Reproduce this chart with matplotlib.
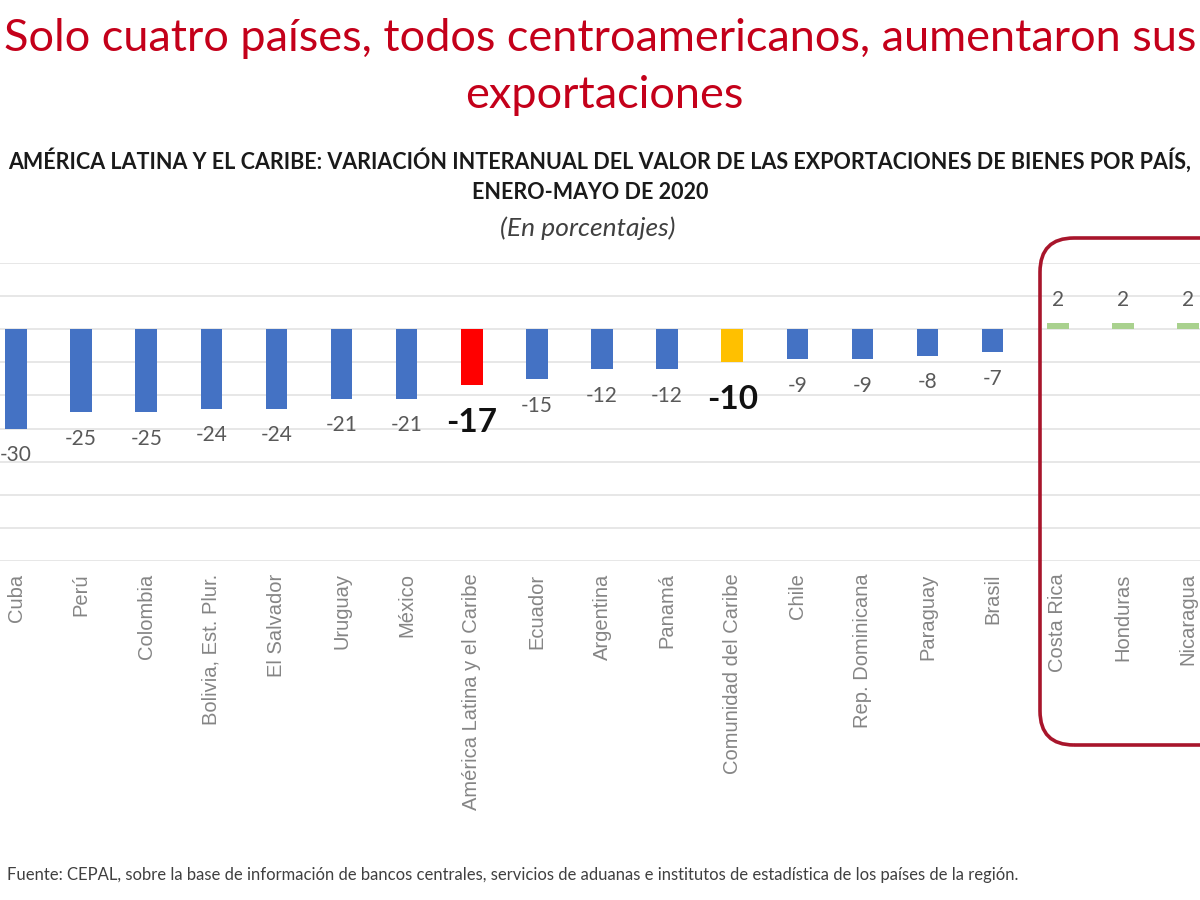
import numpy as np
from matplotlib import pyplot as plt
from matplotlib.patches import FancyBboxPatch

# Values (percent change, January-May 2020)
countries = ['Cuba', 'Perú', 'Colombia', 'Bolivia, Est. Plur.', 'El Salvador', 'Uruguay',
             'México', 'América Latina y el Caribe', 'Ecuador', 'Argentina', 'Panamá',
             'Comunidad del Caribe', 'Chile', 'Rep. Dominicana', 'Paraguay', 'Brasil',
             'Costa Rica', 'Honduras', 'Nicaragua']
values = [-30, -25, -25, -24, -24, -21, -21, -17, -15, -12, -12, -10, -9, -9, -8, -7, 2, 2, 2]

# Regions / aggregates get their own colour, the rest by sign
highlight = {'América Latina y el Caribe': '#FF0000', 'Comunidad del Caribe': '#FFC000'}
blue = '#4472C4'
green = '#A9D18E'

title_lines = ['Solo cuatro países, todos centroamericanos, aumentaron sus', 'exportaciones']
subtitle = 'AMÉRICA LATINA Y EL CARIBE: VARIACIÓN INTERANUAL DEL VALOR DE LAS EXPORTACIONES DE BIENES POR PAÍS,'
period = 'ENERO-MAYO DE 2020'
units = '(En porcentajes)'
source = ('Fuente: CEPAL, sobre la base de información de bancos centrales, servicios de aduanas '
          'e institutos de estadística de los países de la región.')

plt.rcParams['font.family'] = ['Lato', 'DejaVu Sans']

fig = plt.figure(figsize=(12, 9), dpi=100)

# Main bar chart
ax = fig.add_axes([0, 0.3767, 1, 0.3311])
x = np.arange(len(countries))
bar_colors = []
for name, v in zip(countries, values):
    if name in highlight:
        bar_colors.append(highlight[name])
    elif v > 0:
        bar_colors.append(green)
    else:
        bar_colors.append(blue)
ax.bar(x, values, width=0.33, color=bar_colors, zorder=3)

# keep every category (and its labels) inside the picture
ax.set_xlim(-0.246, 18.184)
ax.set_ylim(-70, 20)
ax.set_yticks(np.arange(-70, 21, 10))
ax.grid(axis='y', color='#e3e3e3', linewidth=1.2, zorder=0)
ax.tick_params(axis='y', left=False, labelleft=False)
for spine in ax.spines.values():
    spine.set_visible(False)

ax.set_xticks(x)
ax.set_xticklabels(countries, rotation=90, ha='center', va='top',
                   fontsize=14.5, color='#858585', family=['Liberation Sans', 'DejaVu Sans'])
ax.tick_params(axis='x', length=0, pad=9)

# Data labels under (or above) each bar
for xi, name, v in zip(x, countries, values):
    big = name in highlight
    size = 24 if big else 15
    weight = 'bold' if big else 'normal'
    color = '#111111' if big else '#595959'
    if v < 0:
        ax.annotate(f'{v}', (xi, v), xytext=(0, -16 if big else -12), textcoords='offset points',
                    ha='center', va='top', fontsize=size, fontweight=weight, color=color)
    else:
        ax.annotate(f'{v}', (xi, v), xytext=(0, 9), textcoords='offset points',
                    ha='center', va='bottom', fontsize=size, fontweight=weight, color=color)

# Overlay in pixel units for the box around the countries that grew
over = fig.add_axes([0, 0, 1, 1], zorder=5)
over.set_xlim(0, 1200)
over.set_ylim(0, 900)
over.axis('off')
over.patch.set_alpha(0)
box = FancyBboxPatch((1040, 900 - 745), 220, 745 - 238,
                     boxstyle='round,pad=0,rounding_size=34',
                     fill=False, edgecolor='#A8152B', linewidth=2.6)
over.add_patch(box)

# Titles and source
fig.text(0.5, 0.957, title_lines[0], ha='center', va='center',
         fontsize=32.5, color='#C4001A')
fig.text(0.504, 0.894, title_lines[1], ha='center', va='center',
         fontsize=32.5, color='#C4001A')
fig.text(0.5, 0.822, subtitle, ha='center', va='center',
         fontsize=15.5, fontweight='bold', color='#1a1a1a')
fig.text(0.492, 0.786, period, ha='center', va='center',
         fontsize=15.5, fontweight='bold', color='#1a1a1a')
fig.text(0.49, 0.747, units, ha='center', va='center',
         fontsize=19, style='italic', color='#404040')
fig.text(0.006, 0.028, source, ha='left', va='center', fontsize=12, color='#404040')

fig.savefig('out.png', dpi=100)
